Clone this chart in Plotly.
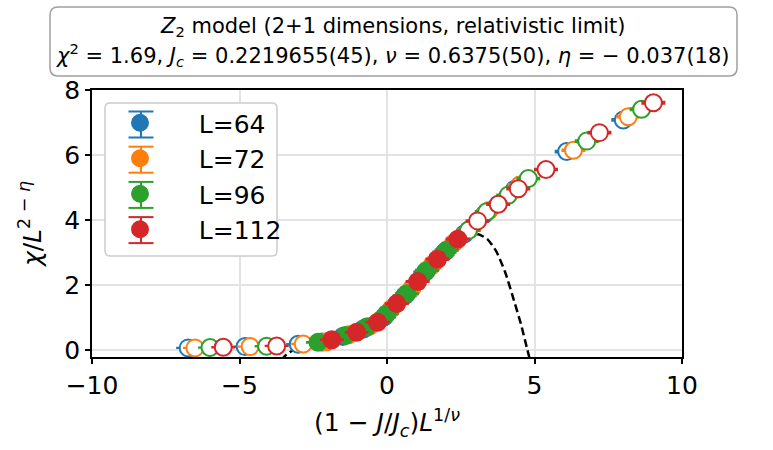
import plotly.graph_objects as go

# ---- data ----
labels = ["L=64", "L=72", "L=96", "L=112"]
colors = ["#1f77b4", "#ff7f0e", "#2ca02c", "#d62728"]

# points inside the fit window (filled markers)
x_fit_64 = [-2.20, -1.50, -0.80, -0.10, 0.60, 1.30, 1.95]
y_fit_64 = [0.26, 0.43, 0.66, 1.03, 1.68, 2.41, 3.02]
x_fit_72 = [-2.05, -1.30, -0.60, 0.15, 0.85, 1.55, 2.25]
y_fit_72 = [0.27, 0.48, 0.74, 1.28, 1.92, 2.65, 3.29]
x_fit_96 = [-2.34, -1.42, -0.69, -0.01, 0.67, 1.35, 2.02]
y_fit_96 = [0.25, 0.46, 0.72, 1.13, 1.74, 2.46, 3.08]
x_fit_112 = [-1.87, -1.03, -0.32, 0.33, 1.04, 1.71, 2.40]
y_fit_112 = [0.33, 0.56, 0.87, 1.44, 2.12, 2.80, 3.42]

# points outside the fit window (open markers)
x_out_64 = [-6.74, -4.81, -3.01, 2.62, 3.30, 4.33, 6.09, 8.01]
y_out_64 = [0.08, 0.12, 0.19, 3.58, 4.18, 4.95, 6.11, 7.08]
x_out_72 = [-6.51, -4.64, -2.84, 2.78, 3.46, 4.50, 6.32, 8.18]
y_out_72 = [0.08, 0.12, 0.20, 3.70, 4.30, 5.08, 6.15, 7.18]
x_out_96 = [-6.00, -4.08, 2.76, 3.38, 4.11, 4.79, 6.77, 8.63]
y_out_96 = [0.09, 0.13, 3.69, 4.26, 4.77, 5.28, 6.43, 7.41]
x_out_112 = [-5.55, -3.74, 3.07, 3.77, 4.45, 5.39, 7.20, 9.03]
y_out_112 = [0.10, 0.14, 3.98, 4.49, 4.97, 5.56, 6.69, 7.61]

# statistical errors (tiny, hidden by markers)
err_fit_64 = [0.010, 0.012, 0.013, 0.015, 0.016, 0.018, 0.020]
err_fit_72 = [0.010, 0.012, 0.013, 0.015, 0.016, 0.018, 0.020]
err_fit_96 = [0.009, 0.011, 0.012, 0.014, 0.015, 0.017, 0.019]
err_fit_112 = [0.009, 0.011, 0.012, 0.014, 0.015, 0.017, 0.019]
err_out_64 = [0.005, 0.006, 0.008, 0.020, 0.022, 0.024, 0.026, 0.028]
err_out_72 = [0.005, 0.006, 0.008, 0.020, 0.022, 0.024, 0.026, 0.028]
err_out_96 = [0.005, 0.006, 0.020, 0.022, 0.024, 0.025, 0.027, 0.029]
err_out_112 = [0.005, 0.006, 0.020, 0.022, 0.024, 0.025, 0.027, 0.029]

# scaling-function fit curve (dashed)
x_curve = [-3.60, -3.40, -3.20, -2.80, -2.40, -2.00, -1.50, -1.00, -0.50, 0.00, 0.50,
           1.00, 1.50, 2.00, 2.50, 2.80, 3.10, 3.40, 3.70, 4.00, 4.30, 4.55, 4.75, 4.85]
y_curve = [-0.30, -0.12, 0.00, 0.14, 0.22, 0.30, 0.43, 0.58, 0.80, 1.12, 1.58,
           2.08, 2.60, 3.05, 3.45, 3.58, 3.57, 3.42, 3.05, 2.42, 1.55, 0.78, 0.05, -0.30]

series = [
    (x_fit_64, y_fit_64, err_fit_64, x_out_64, y_out_64, err_out_64),
    (x_fit_72, y_fit_72, err_fit_72, x_out_72, y_out_72, err_out_72),
    (x_fit_96, y_fit_96, err_fit_96, x_out_96, y_out_96, err_out_96),
    (x_fit_112, y_fit_112, err_fit_112, x_out_112, y_out_112, err_out_112),
]

FONT = "DejaVu Sans"
PAD = "\u00a0" * 3
W, H = 590.0, 267.0   # plot area size in px
L0, T0 = 92.0, 90.0   # plot area left/top in px


def px(xp):
    return (xp - L0) / W


def py(yp):
    return (T0 + H - yp) / H


def rounded_path(xa, ya, xb, yb, r):
    """Rounded rectangle in paper coords from pixel corners."""
    x0, x1, y0, y1 = px(xa), px(xb), py(yb), py(ya)
    rx, ry = r / W, r / H
    return (f"M {x0+rx},{y0} L {x1-rx},{y0} Q {x1},{y0} {x1},{y0+ry} "
            f"L {x1},{y1-ry} Q {x1},{y1} {x1-rx},{y1} L {x0+rx},{y1} Q {x0},{y1} {x0},{y1-ry} "
            f"L {x0},{y0+ry} Q {x0},{y0} {x0+rx},{y0} Z")


fig = go.Figure()

fig.add_trace(go.Scatter(
    x=x_curve, y=y_curve, mode="lines", showlegend=False, hoverinfo="skip",
    line=dict(color="black", width=2.5, dash="8px,4px", shape="spline", smoothing=0.6),
))

for (xf, yf, ef, xo, yo, eo), lab, col in zip(series, labels, colors):
    xs = xf + xo
    ys = yf + yo
    es = ef + eo
    fills = [col] * len(xf) + ["white"] * len(xo)
    fig.add_trace(go.Scatter(
        x=xs, y=ys, mode="markers", name=PAD + lab,
        marker=dict(symbol="circle", size=17, color=fills, line=dict(color=col, width=2)),
        error_y=dict(type="data", array=es, visible=True, color=col, thickness=2, width=12),
    ))

# title box
fig.add_shape(type="path", path=rounded_path(50, 7, 737, 76, 8), xref="paper", yref="paper",
              line=dict(color="#a0a0a0", width=1.5), fillcolor="white", layer="above")

# legend frame with error-bar glyphs (legend entries drawn by plotly on top)
fig.add_shape(type="path", path=rounded_path(105, 103, 277, 256, 5), xref="paper", yref="paper",
              line=dict(color="#cccccc", width=1.5), fillcolor="white", layer="above")
row_y = [124.5, 159.7, 194.9, 230.1]
mx = 141.0
for ry_, col in zip(row_y, colors):
    fig.add_shape(type="line", xref="paper", yref="paper", x0=px(mx), x1=px(mx),
                  y0=py(ry_ - 13), y1=py(ry_ + 13), line=dict(color=col, width=2), layer="above")
    for dy in (-13, 13):
        fig.add_shape(type="line", xref="paper", yref="paper", x0=px(mx - 12.5), x1=px(mx + 12.5),
                      y0=py(ry_ + dy), y1=py(ry_ + dy), line=dict(color=col, width=2), layer="above")

fig.add_annotation(
    text="<i>Z</i><sub>2</sub> model (2+1 dimensions, relativistic limit)",
    xref="paper", yref="paper", x=px(393), y=py(27),
    xanchor="center", yanchor="middle", showarrow=False,
    font=dict(family=FONT, size=21, color="black"))
fig.add_annotation(
    text="<i>χ</i><sup>2</sup> = 1.69, <i>J</i><sub><i>c</i></sub> = 0.2219655(45), "
         "<i>ν</i> = 0.6375(50), <i>η</i> = − 0.037(18)",
    xref="paper", yref="paper", x=px(393), y=py(55),
    xanchor="center", yanchor="middle", showarrow=False,
    font=dict(family=FONT, size=21, color="black"))

axis_common = dict(
    showline=True, linecolor="black", linewidth=1.5, mirror=True,
    ticks="outside", ticklen=5, tickwidth=1.5, tickcolor="black",
    showgrid=True, gridcolor="#e3e3e3", gridwidth=1.5, zeroline=False,
    tickfont=dict(family=FONT, size=25, color="black"),
)

fig.update_layout(
    width=773, height=450,
    margin=dict(l=92, r=91, t=90, b=93),
    paper_bgcolor="white", plot_bgcolor="white",
    font=dict(family=FONT, color="black"),
    xaxis=dict(range=[-10, 10], tickvals=[-10, -5, 0, 5, 10],
               ticktext=["−10", "−5", "0", "5", "10"],
               title=dict(text="(1 − <i>J</i>/<i>J</i><sub><i>c</i></sub>)<i>L</i><sup>1/<i>ν</i></sup>",
                          font=dict(family=FONT, size=25), standoff=15),
               **axis_common),
    yaxis=dict(range=[-0.2, 8], tickvals=[0, 2, 4, 6, 8],
               title=dict(text="<i>χ</i>/<i>L</i><sup>2 − <i>η</i></sup>",
                          font=dict(family=FONT, size=25), standoff=16),
               **axis_common),
    legend=dict(x=px(105), y=py(100), xanchor="left", yanchor="top",
                bgcolor="rgba(0,0,0,0)", borderwidth=0,
                font=dict(family=FONT, size=25), itemwidth=60, tracegroupgap=0),
    showlegend=True,
)

fig.write_html("out.html")
